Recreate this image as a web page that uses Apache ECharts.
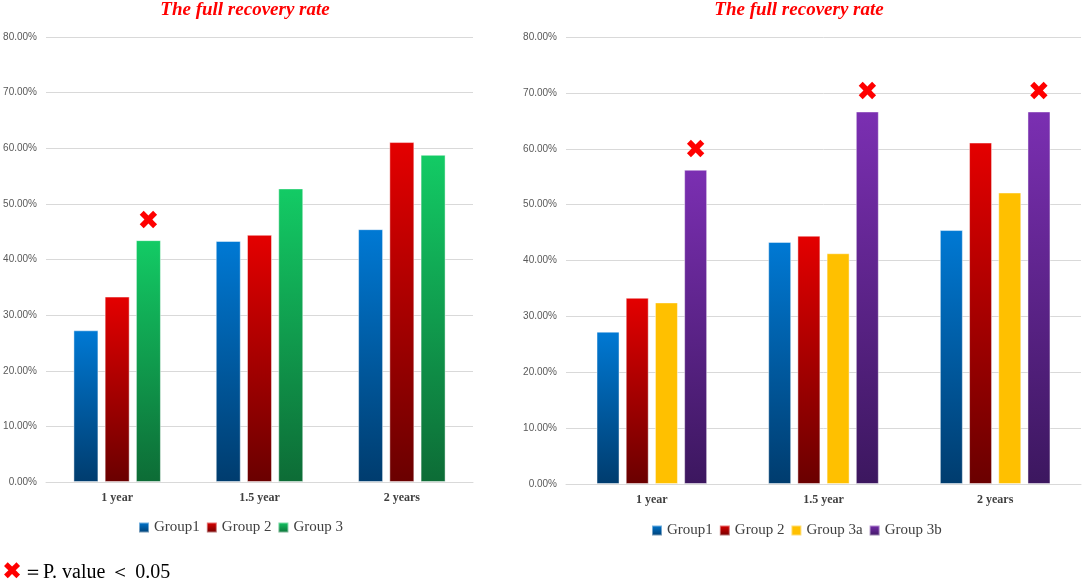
<!DOCTYPE html>
<html>
<head>
<meta charset="utf-8">
<script src="https://cdn.jsdelivr.net/npm/echarts@6/dist/echarts.min.js"></script>
<style>
  html, body { margin: 0; padding: 0; background: #fff; }
  #main { width: 1084px; height: 584px; }
</style>
</head>
<body>
<div id="main"></div>
<script>
// values in percent
const categories = ['1 year', '1.5 year', '2 years'];
const yTicks = [0, 10, 20, 30, 40, 50, 60, 70, 80];

const leftGroup1 = [27.27, 43.33, 45.45];
const leftGroup2 = [33.33, 44.44, 61.11];
const leftGroup3 = [43.48, 52.78, 58.82];
const leftMarked = [true, false, false]; // Group 3, p < 0.05

const rightGroup1 = [27.27, 43.33, 45.45];
const rightGroup2 = [33.33, 44.44, 61.11];
const rightGroup3a = [32.50, 41.30, 52.17];
const rightGroup3b = [56.25, 66.67, 66.67];
const rightMarked = [true, true, true]; // Group 3b, p < 0.05

function grad(top, bottom) {
  return new echarts.graphic.LinearGradient(0, 0, 0, 1, [
    { offset: 0, color: top },
    { offset: 1, color: bottom }
  ]);
}
const colors = {
  g1: grad('#0079D4', '#003C6E'),
  g2: grad('#E40000', '#6A0000'),
  g3: grad('#13CB65', '#0D6C36'),
  g3a: '#FFC000',
  g3b: grad('#7B2FB2', '#3C175F')
};

function withMarks(values, marks) {
  return values.map(function (v, i) {
    if (!marks[i]) return v;
    return {
      value: v,
      label: {
        show: true,
        position: 'top',
        distance: 5,
        formatter: '✖',
        color: '#FF0000',
        fontSize: 26,
        fontFamily: 'DejaVu Sans'
      }
    };
  });
}

function bar(name, data, color, idx, width, gap) {
  return {
    name: name,
    type: 'bar',
    xAxisIndex: idx,
    yAxisIndex: idx,
    barWidth: width,
    barGap: gap,
    data: data,
    itemStyle: { color: color, borderColor: 'rgba(255,255,255,0.45)', borderWidth: 1 }
  };
}

function yAxis(idx) {
  return {
    type: 'value',
    gridIndex: idx,
    min: yTicks[0],
    max: yTicks[yTicks.length - 1],
    interval: 10,
    axisLine: { show: false },
    axisTick: { show: false },
    axisLabel: {
      margin: 9,
      color: '#595959',
      fontSize: 10,
      fontFamily: 'Liberation Sans',
      formatter: function (v) { return v.toFixed(2) + '%'; }
    },
    splitLine: { lineStyle: { color: '#D9D9D9', width: 1 } }
  };
}

function xAxis(idx) {
  return {
    type: 'category',
    gridIndex: idx,
    data: categories,
    axisLine: { lineStyle: { color: '#D9D9D9' } },
    axisTick: { show: false },
    axisLabel: {
      margin: 10,
      color: '#404040',
      fontSize: 12,
      fontWeight: 'bold',
      fontFamily: 'Liberation Serif'
    }
  };
}

const titleStyle = {
  color: '#FF0000',
  fontSize: 19,
  fontWeight: 'bold',
  fontStyle: 'italic',
  fontFamily: 'Liberation Serif'
};
const legendText = { color: '#404040', fontSize: 15, fontFamily: 'Liberation Serif' };

const chart = echarts.init(document.getElementById('main'));
chart.setOption({
  animation: false,
  backgroundColor: '#fff',
  title: [
    { text: 'The full recovery rate', left: 240, top: -4, textAlign: 'center', textStyle: titleStyle },
    { text: 'The full recovery rate', left: 794, top: -4, textAlign: 'center', textStyle: titleStyle }
  ],
  legend: [
    {
      data: ['Group1', 'Group 2', 'Group 3'],
      left: 138, top: 520, padding: 0,
      icon: 'rect', itemWidth: 10, itemHeight: 10, itemGap: 6,
      textStyle: legendText
    },
    {
      data: ['Group1', 'Group 2', 'Group 3a', 'Group 3b'],
      left: 651, top: 523, padding: 0,
      icon: 'rect', itemWidth: 10, itemHeight: 10, itemGap: 6,
      textStyle: legendText
    }
  ],
  grid: [
    { left: 46, right: 611, top: 37, bottom: 102 },
    { left: 566, right: 3, top: 37, bottom: 100 }
  ],
  xAxis: [xAxis(0), xAxis(1)],
  yAxis: [yAxis(0), yAxis(1)],
  series: [
    bar('Group1', leftGroup1, colors.g1, 0, 25, '25%'),
    bar('Group 2', leftGroup2, colors.g2, 0, 25, '25%'),
    bar('Group 3', withMarks(leftGroup3, leftMarked), colors.g3, 0, 25, '25%'),
    bar('Group1', rightGroup1, colors.g1, 1, 23, '27%'),
    bar('Group 2', rightGroup2, colors.g2, 1, 23, '27%'),
    bar('Group 3a', rightGroup3a, colors.g3a, 1, 23, '27%'),
    bar('Group 3b', withMarks(rightGroup3b, rightMarked), colors.g3b, 1, 23, '27%')
  ],
  graphic: [
    {
      type: 'text',
      left: 2,
      top: 561,
      style: {
        text: '{x|✖}{t|＝P. value ＜ 0.05}',
        rich: {
          x: { fill: '#FF0000', fontSize: 24, fontFamily: 'DejaVu Sans' },
          t: { fill: '#000', fontSize: 20, fontFamily: 'Liberation Serif', padding: [0, 0, 0, 1] }
        }
      }
    }
  ]
});
</script>
</body>
</html>
